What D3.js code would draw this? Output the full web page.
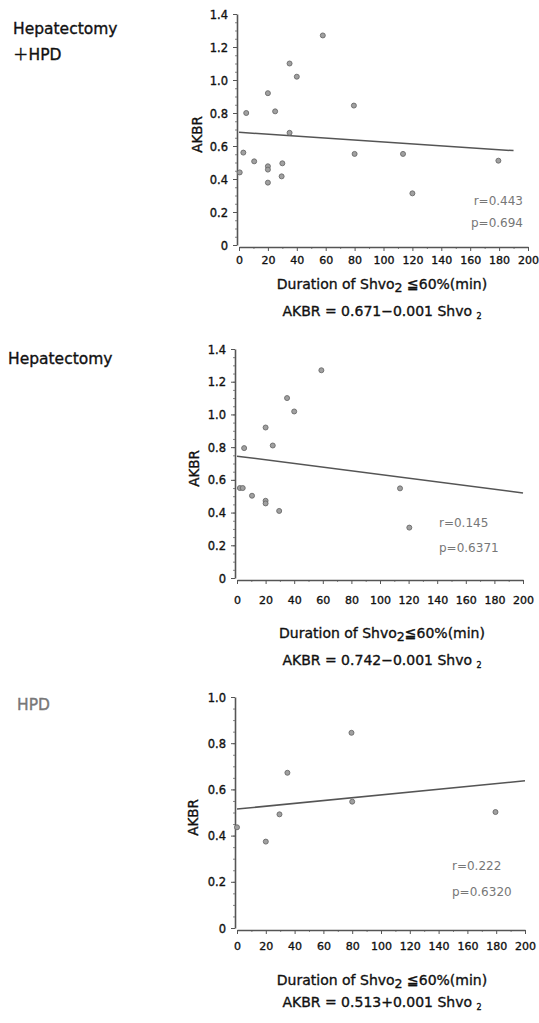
<!DOCTYPE html>
<html><head><meta charset="utf-8">
<script src="https://cdn.jsdelivr.net/npm/d3@7"></script>
<style>body{margin:0;background:#fff}svg{display:block}text{font-family:"DejaVu Sans","Noto Sans",sans-serif}</style>
</head><body>
<svg id="c" width="539" height="1023"></svg>
<script>
// ---- data ----
const panelTitles = [["Hepatectomy", "\uFF0BHPD"], ["Hepatectomy"], ["HPD"]];
const yMaxes = [1.4, 1.4, 1.0];
const xTicks = [0, 20, 40, 60, 80, 100, 120, 140, 160, 180, 200];
const yTicks14 = [0, 0.2, 0.4, 0.6, 0.8, 1.0, 1.2, 1.4];
const yTicks10 = [0, 0.2, 0.4, 0.6, 0.8, 1.0];
const pointsA = [[58,1.27],[35,1.10],[40,1.02],[20,0.92],[5,0.80],[25,0.81],[35,0.68],[79.5,0.845],
  [3,0.56],[10.5,0.507],[20,0.477],[20,0.457],[30,0.495],[29.5,0.416],[20,0.378],[0.5,0.44],
  [80,0.552],[113.5,0.552],[120,0.313],[179.5,0.511]];
const pointsB = [[59,1.27],[35,1.10],[40,1.018],[20,0.92],[5,0.794],[25,0.81],[2,0.55],[4,0.55],
  [10.5,0.503],[20,0.472],[20,0.456],[29.5,0.41],[114,0.548],[120.5,0.308]];
const pointsC = [[0,0.436],[20,0.374],[29.5,0.492],[35,0.672],[79.5,0.845],[80,0.547],[179.5,0.502]];
const linesFit = [[[0,0.683],[190,0.572]], [[0,0.745],[200,0.52]], [[0,0.515],[200,0.637]]];
const rTexts = ["r=0.443", "r=0.145", "r=0.222"];
const pTexts = ["p=0.694", "p=0.6371", "p=0.6320"];
const equations = ["AKBR = 0.671\u22120.001 Shvo", "AKBR = 0.742\u22120.001 Shvo", "AKBR = 0.513+0.001 Shvo"];

// ---- layout ----
const layout = [
  {x0:239, x1:528, yTop:14, yBot:245, titleX:[13,13], titleY:[34,60], titleColor:"#111", tickLabY:260, xtitleY:284, eqY:311, akbrX:202, rX:523, rY:201, pY:223, yt:yTicks14, anchor:"end"},
  {x0:237, x1:523, yTop:349, yBot:578, titleX:[8], titleY:[364], titleColor:"#111", tickLabY:600, xtitleY:633, eqY:660, akbrX:199, rX:439, rY:523, pY:548, yt:yTicks14, anchor:"start"},
  {x0:237, x1:525, yTop:697, yBot:928, titleX:[17], titleY:[710], titleColor:"#777", tickLabY:946, xtitleY:980, eqY:1002, akbrX:198, rX:452, rY:866, pY:892, yt:yTicks10, anchor:"start"}
];
const allPoints = [pointsA, pointsB, pointsC];
const svg = d3.select("#c");
const thick = s => s.attr("stroke", "currentColor").attr("stroke-width", 0.35);

layout.forEach((L, i) => {
  const x = d3.scaleLinear().domain([0, 200]).range([L.x0, L.x1]);
  const y = d3.scaleLinear().domain([0, yMaxes[i]]).range([L.yBot, L.yTop]);
  const g = svg.append("g");

  // titles
  panelTitles[i].forEach((t, k) => {
    const tt = g.append("text").attr("x", L.titleX[k]).attr("y", L.titleY[k]).attr("font-size", 15.5)
      .attr("fill", L.titleColor).style("color", L.titleColor).call(thick);
    if (t.startsWith("\uFF0B")) {
      tt.append("tspan").attr("font-family", "Noto Sans CJK JP").text("\uFF0B");
      tt.append("tspan").text(t.slice(1));
    } else tt.text(t);
  });

  // minor ticks
  const yMinor = d3.range(0, yMaxes[i] + 1e-6, 0.05);
  g.append("g").attr("transform", `translate(${L.x0 - 2},0)`)
    .call(d3.axisLeft(y).tickValues(yMinor).tickSize(2).tickFormat(""))
    .call(s => { s.select(".domain").remove(); s.selectAll("line").attr("stroke", "#888"); });
  const xMinor = d3.range(10, 200, 20);
  g.append("g").attr("transform", `translate(0,${L.yBot + 2})`)
    .call(d3.axisBottom(x).tickValues(xMinor).tickSize(2).tickFormat(""))
    .call(s => { s.select(".domain").remove(); s.selectAll("line").attr("stroke", "#888"); });

  // axes
  const ya = g.append("g").attr("transform", `translate(${L.x0 - 2},0)`)
    .call(d3.axisLeft(y).tickValues(L.yt).tickSize(4).tickSizeOuter(0)
      .tickFormat(v => v === 0 ? "0" : d3.format(".1f")(v)));
  const xa = g.append("g").attr("transform", `translate(0,${L.yBot + 2})`)
    .call(d3.axisBottom(x).tickValues(xTicks).tickSize(4).tickSizeOuter(0));
  [ya, xa].forEach(a => {
    a.select(".domain").attr("stroke", "#555").attr("stroke-width", 1.6);
    a.selectAll(".tick line").attr("stroke", "#555");
    a.selectAll("text").attr("font-size", 11.5).attr("fill", "#111").style("color", "#111").call(thick);
  });
  ya.selectAll("text").attr("x", -9).attr("dy", "0.35em");
  xa.selectAll("text").attr("y", L.tickLabY - L.yBot - 2).attr("dy", "0.35em").attr("font-size", 11);

  // AKBR label
  g.append("text").attr("transform", `translate(${L.akbrX},${(L.yTop + L.yBot) / 2 + 5}) rotate(-90)`)
    .attr("text-anchor", "middle").attr("font-size", 13.5).attr("fill", "#111").style("color", "#111")
    .call(thick).text("AKBR");

  // fit line
  g.append("path").datum(linesFit[i])
    .attr("d", d3.line().x(d => x(d[0])).y(d => y(d[1])))
    .attr("stroke", "#555").attr("stroke-width", 1.5).attr("fill", "none");

  // points
  g.selectAll("circle.pt").data(allPoints[i]).join("circle").attr("class", "pt")
    .attr("cx", d => x(d[0])).attr("cy", d => y(d[1])).attr("r", 2.5)
    .attr("fill", "#a0a0a0").attr("stroke", "#6a6a6a").attr("stroke-width", 0.9);

  // r / p
  g.append("text").attr("x", L.rX).attr("y", L.rY + 4).attr("text-anchor", L.anchor)
    .attr("font-size", 12).attr("fill", "#777").text(rTexts[i]);
  g.append("text").attr("x", L.rX).attr("y", L.pY + 4).attr("text-anchor", L.anchor)
    .attr("font-size", 12).attr("fill", "#777").text(pTexts[i]);

  // x title
  const cx = 382;
  const xt = g.append("text").attr("x", cx).attr("y", L.xtitleY + 5).attr("text-anchor", "middle")
    .attr("font-size", 14).attr("fill", "#111").style("color", "#111").call(thick);
  xt.append("tspan").text("Duration of Shvo");
  xt.append("tspan").attr("font-size", 12.5).attr("dy", 3).text("2");
  xt.append("tspan").attr("dy", -3).text(i === 1 ? "\u2266" : " \u2266");
  xt.append("tspan").text("60%(min)");

  // equation
  const eq = g.append("text").attr("x", cx).attr("y", L.eqY + 5).attr("text-anchor", "middle")
    .attr("font-size", 14).attr("fill", "#111").style("color", "#111").call(thick);
  eq.append("tspan").text(equations[i] + " ");
  eq.append("tspan").attr("font-size", 8).attr("dy", 3).text("2");
});
</script>
</body></html>
